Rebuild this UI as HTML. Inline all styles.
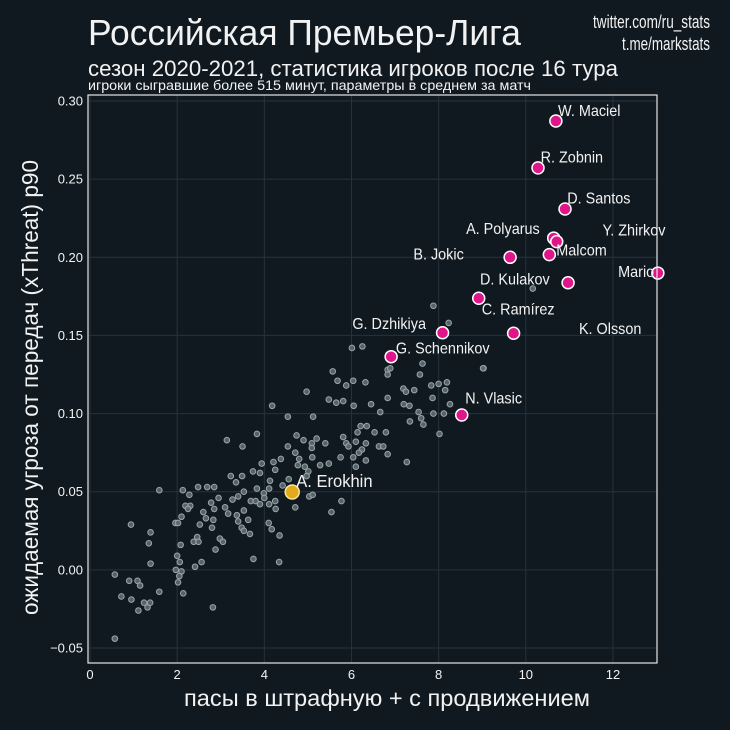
<!DOCTYPE html>
<html><head><meta charset="utf-8">
<style>
html,body{margin:0;padding:0;background:#101920;}
svg{display:block;}
text{font-family:"Liberation Sans Narrow","Liberation Sans",sans-serif;fill:#f2f2f2;}
</style></head>
<body>
<svg id="chart" width="730" height="730" viewBox="0 0 730 730">
<rect x="0" y="0" width="730" height="730" fill="#101920"/>
<text x="88" y="45" font-size="36" textLength="433" lengthAdjust="spacingAndGlyphs">Российская Премьер-Лига</text>
<text x="88" y="76" font-size="22" textLength="530" lengthAdjust="spacingAndGlyphs">сезон 2020-2021, статистика игроков после 16 тура</text>
<text x="88" y="90" font-size="14" textLength="443" lengthAdjust="spacingAndGlyphs">игроки сыгравшие более 515 минут, параметры в среднем за матч</text>
<text x="593" y="28" font-size="18" textLength="117" lengthAdjust="spacingAndGlyphs">twitter.com/ru_stats</text>
<text x="622" y="50" font-size="18" textLength="88" lengthAdjust="spacingAndGlyphs">t.me/markstats</text>
<g id="grid"></g>
<g id="ticks"></g>
<g id="points"></g>
<rect x="88" y="95" width="569" height="568" fill="none" stroke="#e6e6e6" stroke-width="1.2"/>
<text x="184" y="706" font-size="23" textLength="406" lengthAdjust="spacingAndGlyphs">пасы в штрафную + с продвижением</text>
<text transform="translate(38,615) rotate(-90)" font-size="23" textLength="455" lengthAdjust="spacingAndGlyphs">ожидаемая угроза от передач (xThreat) p90</text>
</svg>
<script>
const xTicks=[0,2,4,6,8,10,12];
const yTicks=[-0.05,0,0.05,0.10,0.15,0.20,0.25,0.30];
const yTickLabels=["\u22120.05","0.00","0.05","0.10","0.15","0.20","0.25","0.30"];
const greyX=[7.88,8.23,6.01,6.25,6.83,6.89,6.83,7.63,7.57,9.03,5.57,5.68,5.88,6.04,6.32,4.97,7.19,7.25,7.44,7.83,8.00,8.19,8.15,7.86,6.83,5.48,5.65,5.81,6.05,6.45,7.20,7.33,8.26,4.18,4.54,5.12,6.66,7.54,7.60,7.88,8.12,7.34,7.65,8.02,3.14,3.50,3.83,4.74,4.90,5.09,5.20,5.40,5.81,5.88,5.93,6.10,6.21,6.35,6.53,6.79,6.14,6.33,6.24,6.63,6.73,6.83,7.27,4.54,4.71,4.80,5.09,5.10,5.28,5.48,5.75,6.04,6.17,6.33,6.10,4.38,4.21,3.94,3.90,3.74,4.25,4.13,4.77,4.93,5.01,4.97,4.56,4.42,3.23,3.35,3.49,2.48,2.69,2.85,1.59,2.13,2.28,2.95,2.78,3.27,3.40,3.53,3.83,3.99,4.11,4.00,4.25,4.11,4.26,3.69,3.80,3.90,3.53,3.37,3.17,3.10,2.85,2.60,2.30,2.19,2.25,2.66,2.83,2.52,2.80,3.40,3.63,3.48,3.53,3.67,4.10,4.17,4.35,5.03,5.11,4.71,5.54,5.77,1.96,2.02,2.10,0.94,1.39,1.35,2.08,2.00,2.06,2.46,2.38,2.49,2.98,3.05,2.88,2.56,2.41,1.97,2.10,2.05,2.02,1.39,0.57,0.90,1.09,1.15,1.59,2.14,0.72,0.95,1.24,1.32,1.38,1.11,2.82,3.75,4.34,0.57,10.16,9.02];
const greyY=[0.169,0.158,0.142,0.143,0.128,0.129,0.125,0.132,0.125,0.129,0.127,0.121,0.118,0.121,0.120,0.114,0.116,0.114,0.115,0.118,0.119,0.120,0.115,0.110,0.110,0.109,0.107,0.108,0.105,0.106,0.106,0.105,0.106,0.105,0.098,0.098,0.101,0.101,0.097,0.100,0.100,0.095,0.093,0.087,0.083,0.079,0.087,0.086,0.083,0.081,0.084,0.081,0.085,0.081,0.079,0.082,0.092,0.092,0.088,0.088,0.088,0.081,0.077,0.079,0.079,0.074,0.069,0.079,0.075,0.071,0.078,0.072,0.067,0.068,0.072,0.072,0.075,0.070,0.066,0.071,0.069,0.068,0.062,0.063,0.064,0.057,0.067,0.066,0.063,0.060,0.058,0.054,0.060,0.056,0.060,0.053,0.053,0.053,0.051,0.051,0.048,0.046,0.043,0.045,0.047,0.050,0.052,0.049,0.052,0.046,0.044,0.042,0.039,0.044,0.044,0.042,0.038,0.035,0.036,0.040,0.039,0.037,0.041,0.041,0.039,0.033,0.032,0.029,0.027,0.031,0.032,0.027,0.025,0.023,0.030,0.026,0.022,0.047,0.048,0.040,0.037,0.044,0.030,0.030,0.034,0.029,0.024,0.017,0.016,0.009,0.005,0.021,0.018,0.018,0.020,0.018,0.013,0.005,0.002,0.000,-0.001,-0.004,-0.008,0.004,-0.003,-0.007,-0.007,-0.010,-0.014,-0.015,-0.017,-0.019,-0.021,-0.024,-0.021,-0.026,-0.024,0.007,0.005,-0.044,0.180,0.129];
const starNames=["W. Maciel","R. Zobnin","D. Santos","A. Polyarus","Y. Zhirkov","Malcom","B. Jokic","D. Kulakov","Mario","C. Ramírez","K. Olsson","G. Dzhikiya","G. Schennikov","N. Vlasic"];
const starX=[10.69,10.28,10.90,10.64,10.71,10.54,9.64,10.97,13.03,8.92,9.72,8.09,6.91,8.53];
const starY=[0.2872,0.2572,0.2309,0.2123,0.2100,0.2017,0.2000,0.1837,0.1899,0.1738,0.1514,0.1517,0.1364,0.0991];
const labelX=[10.74,10.34,10.95,8.63,11.76,10.70,7.42,8.95,12.12,8.99,11.22,6.02,7.02,8.61];
const labelY=[0.2905,0.2605,0.2345,0.2150,0.2140,0.2010,0.1985,0.1825,0.1875,0.1635,0.1510,0.1540,0.1385,0.1065];
const focusName="A. Erokhin";
const focusX=4.64, focusY=0.0498;

const NS="http://www.w3.org/2000/svg";
const sx=v=>90+v*43.58;
const sy=v=>101+(0.30-v)*1562.9;
function mk(tag,attrs,parent){const e=document.createElementNS(NS,tag);for(const k in attrs)e.setAttribute(k,attrs[k]);parent.appendChild(e);return e;}
const grid=document.getElementById('grid'),ticks=document.getElementById('ticks'),pts=document.getElementById('points');
xTicks.forEach(t=>{
  const l=mk('line',{x1:sx(t),x2:sx(t),y1:95,y2:663,stroke:'#26323d','stroke-width':1},grid);
  
  
  const tx=mk('text',{x:sx(t),y:679,'font-size':13,'text-anchor':'middle'},ticks);
  tx.textContent=t;
  
  
});
yTicks.forEach((t,i)=>{
  const l=mk('line',{x1:88,x2:657,y1:sy(t),y2:sy(t),stroke:'#26323d','stroke-width':1},grid);
  
  
  const tx=mk('text',{x:83,y:sy(t)+4.5,'font-size':13,'text-anchor':'end'},ticks);
  tx.textContent=yTickLabels[i];
  
  
});
greyX.forEach((x,i)=>{
  const c=mk('circle',{cx:sx(x),cy:sy(greyY[i]),r:2.8,fill:'#5d6a70',stroke:'#9aa6aa','stroke-width':1,'fill-opacity':0.9},pts);
  
  
});
starX.forEach((x,i)=>{
  const c=mk('circle',{cx:sx(x),cy:sy(starY[i]),r:6,fill:'#e0158a',stroke:'#ffffff','stroke-width':1.5},pts);
  
  
});
starNames.forEach((n,i)=>{
  const t=mk('text',{x:sx(labelX[i]),y:sy(labelY[i]),'font-size':16,transform:'translate('+sx(labelX[i])+',0) scale(0.9,1) translate('+(-sx(labelX[i]))+',0)'},pts);
  t.textContent=n;
  
  
});
const f=mk('circle',{cx:sx(focusX),cy:sy(focusY),r:7,fill:'#e3aa1c',stroke:'#f5e6a0','stroke-width':1.5},pts);


const fxp=sx(focusX)+4;
const ft=mk('text',{x:fxp,y:sy(focusY)-5,'font-size':18,transform:'translate('+fxp+',0) scale(0.92,1) translate('+(-fxp)+',0)'},pts);
ft.textContent=focusName;


</script>
</body></html>
